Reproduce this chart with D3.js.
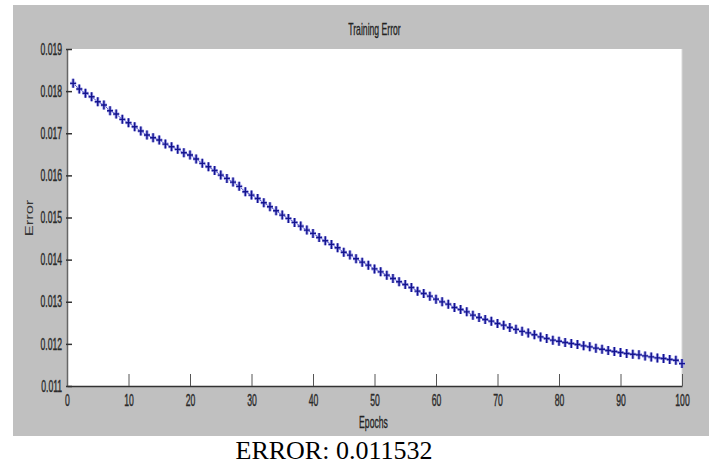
<!DOCTYPE html>
<html>
<head>
<meta charset="utf-8">
<script src="https://cdn.jsdelivr.net/npm/d3@7"></script>
<style>
body { margin: 0; background: #fff; }
</style>
</head>
<body>
<div class="container"></div>
<script>
const wd = 709
const ht = 466

// data, one value per epoch
const epochs = d3.range(1, 101)
const errorVals = [
  0.018185, 0.018050, 0.017948, 0.017867, 0.017748, 0.017670, 0.017534, 0.017456, 0.017330, 0.017250,
  0.017154, 0.017052, 0.016957, 0.016893, 0.016838, 0.016743, 0.016679, 0.016618, 0.016537, 0.016482,
  0.016390, 0.016285, 0.016204, 0.016115, 0.016007, 0.015928, 0.015840, 0.015740, 0.015610, 0.015532,
  0.015450, 0.015349, 0.015254, 0.015159, 0.015057, 0.014979, 0.014884, 0.014796, 0.014701, 0.014622,
  0.014527, 0.014447, 0.014361, 0.014281, 0.014175, 0.014107, 0.014020, 0.013940, 0.013869, 0.013780,
  0.013710, 0.013632, 0.013553, 0.013473, 0.013411, 0.013340, 0.013252, 0.013197, 0.013133, 0.013062,
  0.012998, 0.012943, 0.012865, 0.012817, 0.012760, 0.012682, 0.012627, 0.012580, 0.012539, 0.012485,
  0.012444, 0.012390, 0.012345, 0.012297, 0.012260, 0.012215, 0.012166, 0.012128, 0.012088, 0.012064,
  0.012033, 0.012010, 0.011986, 0.011953, 0.011929, 0.011898, 0.011874, 0.011843, 0.011819, 0.011796,
  0.011772, 0.011755, 0.011739, 0.011715, 0.011691, 0.011667, 0.011653, 0.011629, 0.011613, 0.011532
]
const xTicks = [0, 10, 20, 30, 40, 50, 60, 70, 80, 90, 100]
const yTicks = [0.011, 0.012, 0.013, 0.014, 0.015, 0.016, 0.017, 0.018, 0.019]
const titleText = "Training Error"
const xLabel = "Epochs"
const yLabel = "Error"
const caption = "ERROR: 0.011532"

const pl = 67, pr = 682, pt = 49, pb = 386
const sans = "'Liberation Sans', Arial, sans-serif"
const squash = "scale(0.54,1)" // the picture is stretched tall, so text is narrow

const svgC = d3.select(".container")
.append("svg")
.attr("width", wd)
.attr("height", ht)

// grey figure background
svgC.append("rect")
.attr("x", 13).attr("y", 5)
.attr("width", wd - 13).attr("height", 431)
.attr("fill", "#c0c0c0")

// white axes area
svgC.append("rect")
.attr("x", pl).attr("y", pt)
.attr("width", pr - pl).attr("height", pb - pt)
.attr("fill", "#fff")

svgC.append("line")
.attr("x1", pr).attr("x2", pr).attr("y1", pt).attr("y2", pb)
.style("stroke", "#d8d8d8").style("stroke-width", 1)

const x = d3.scaleLinear().domain([0, 100]).range([pl, pr])
const y = d3.scaleLinear().domain([0.011, 0.019]).range([pb, pt])

// x axis, ticks pointing in
const xAxis = svgC.append("g")
.attr("transform", `translate(0,${pb})`)
.call(d3.axisBottom(x).tickValues(xTicks).tickSizeInner(-12).tickSizeOuter(0).tickFormat(d3.format("d")))
xAxis.select(".domain").style("stroke", "#333").style("stroke-width", 1.5)
xAxis.selectAll(".tick line").style("stroke", "#555")
xAxis.selectAll("text")
.attr("y", 20.5).attr("dy", 0)
.attr("transform", squash)
.attr("fill", "#2a2a2a")
.style("stroke", "#2a2a2a").style("stroke-width", 0.4)
.style("font-family", sans)
.style("font-size", "16px")

// y axis
const yAxis = svgC.append("g")
.attr("transform", `translate(${pl},0)`)
.call(d3.axisLeft(y).tickValues(yTicks).tickSizeInner(-5).tickSizeOuter(0).tickFormat(d3.format(".3f")))
yAxis.select(".domain").style("stroke", "#666").style("stroke-width", 1.5)
yAxis.selectAll(".tick line").style("stroke", "#333").style("stroke-width", 1.5)
yAxis.selectAll(".tick line").attr("x2", 5).attr("x1", -1)
yAxis.selectAll("text")
.attr("x", -9)
.attr("transform", squash)
.attr("fill", "#2a2a2a")
.style("stroke", "#2a2a2a").style("stroke-width", 0.4)
.style("font-family", sans)
.style("font-size", "16px")

// series
const pts = epochs.map((e, i) => [e, errorVals[i]])

const lineFunc = d3.line()
.x(d => x(d[0]))
.y(d => y(d[1]))

svgC.append("path")
.attr("d", lineFunc(pts))
.attr("fill", "none")
.style("stroke", "#5a5ad0")
.style("stroke-width", 1)

const plus = d => {
  const cx = x(d[0]), cy = y(d[1])
  return `M${cx - 3},${cy}H${cx + 3}M${cx},${cy - 4.5}V${cy + 4.5}`
}

// soft halo under each marker, like the blurry jpeg
svgC.selectAll(".halo")
.data(pts)
.enter()
.append("path")
.attr("class", "halo")
.attr("d", plus)
.attr("fill", "none")
.style("stroke", "#9a9ae6")
.style("stroke-width", 3)

svgC.selectAll(".mk")
.data(pts)
.enter()
.append("path")
.attr("class", "mk")
.attr("d", plus)
.attr("fill", "none")
.style("stroke", "#14148f")
.style("stroke-width", 1.4)

// labels
svgC.append("text")
.attr("transform", `translate(${(pl + pr) / 2},35) ${squash}`)
.attr("text-anchor", "middle")
.attr("fill", "#222")
.style("stroke", "#222").style("stroke-width", 0.3)
.style("font-family", sans)
.style("font-size", "16px")
.text(titleText)

svgC.append("text")
.attr("transform", `translate(${(pl + pr) / 2 - 1},428) ${squash}`)
.attr("text-anchor", "middle")
.attr("fill", "#222")
.style("stroke", "#222").style("stroke-width", 0.3)
.style("font-family", sans)
.style("font-size", "16px")
.text(xLabel)

svgC.append("text")
.attr("transform", `translate(33,218) rotate(-90) scale(1.5,1)`)
.attr("text-anchor", "middle")
.attr("fill", "#333")
.style("font-family", sans)
.style("font-size", "11px")
.text(yLabel)

svgC.append("text")
.attr("x", 334).attr("y", 459)
.attr("text-anchor", "middle")
.attr("fill", "#000")
.style("font-family", "'Times New Roman', 'Liberation Serif', serif")
.style("font-size", "26px")
.text(caption)
</script>
</body>
</html>
